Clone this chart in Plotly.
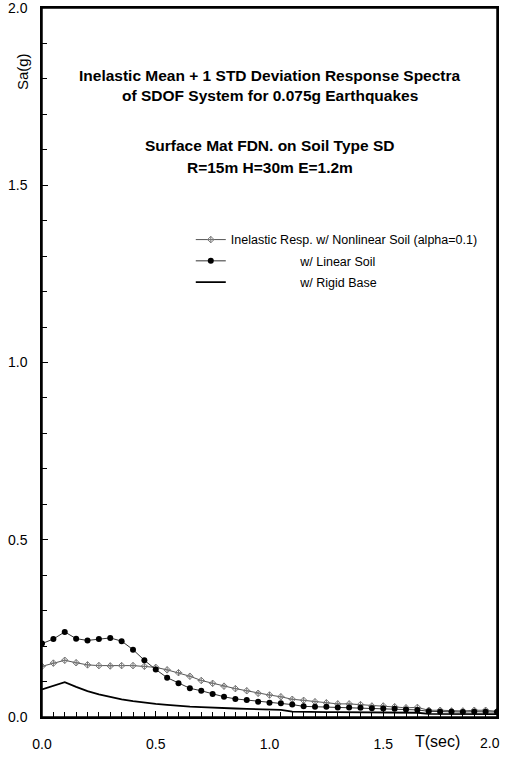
import plotly.graph_objects as go

# ---- data ----
T = [0.00, 0.05, 0.10, 0.15, 0.20, 0.25, 0.30, 0.35, 0.40, 0.45,
     0.50, 0.55, 0.60, 0.65, 0.70, 0.75, 0.80, 0.85, 0.90, 0.95,
     1.00, 1.05, 1.10, 1.15, 1.20, 1.25, 1.30, 1.35, 1.40, 1.45,
     1.50, 1.55, 1.60, 1.65, 1.70, 1.75, 1.80, 1.85, 1.90, 1.95, 2.00]

sa_nonlinear = [0.143, 0.152, 0.160, 0.153, 0.147, 0.145, 0.144, 0.145, 0.145, 0.143,
                0.140, 0.133, 0.125, 0.115, 0.103, 0.095, 0.087, 0.080, 0.074, 0.067,
                0.062, 0.057, 0.050, 0.047, 0.043, 0.040, 0.037, 0.037, 0.035, 0.031,
                0.031, 0.029, 0.026, 0.027, 0.019, 0.019, 0.017, 0.017, 0.019, 0.019, 0.016]

sa_linear = [0.207, 0.220, 0.240, 0.221, 0.216, 0.220, 0.223, 0.214, 0.190, 0.160,
             0.134, 0.111, 0.095, 0.081, 0.074, 0.065, 0.057, 0.051, 0.048, 0.043,
             0.040, 0.039, 0.035, 0.030, 0.029, 0.029, 0.027, 0.027, 0.026, 0.025,
             0.024, 0.023, 0.021, 0.020, 0.016, 0.015, 0.015, 0.014, 0.015, 0.015, 0.014]

sa_rigid = [0.078, 0.088, 0.098, 0.085, 0.073, 0.064, 0.056, 0.050, 0.045, 0.040,
            0.037, 0.034, 0.031, 0.029, 0.028, 0.026, 0.025, 0.024, 0.023, 0.022,
            0.021, 0.020, 0.015, 0.014, 0.014, 0.014, 0.014, 0.014, 0.014, 0.013,
            0.013, 0.013, 0.013, 0.012, 0.009, 0.009, 0.009, 0.008, 0.008, 0.008, 0.008]

x_ticks = [0.0, 0.5, 1.0, 1.5, 2.0]
y_ticks = [0.0, 0.5, 1.0, 1.5, 2.0]

names = ["Inelastic Resp. w/ Nonlinear Soil (alpha=0.1)",
         "w/ Linear Soil",
         "w/ Rigid Base"]

title_lines = ["Inelastic Mean + 1 STD Deviation Response Spectra",
               "of SDOF System for 0.075g Earthquakes",
               "Surface Mat FDN. on Soil Type SD",
               "R=15m H=30m E=1.2m"]
title_y = [0.9055, 0.8759, 0.8054, 0.7757]

FONT = "Liberation Sans, Arial, sans-serif"
NB = "\u00a0"

x_ticktext = [f"{v:.1f}" for v in x_ticks]
last_x_label = x_ticktext[-1]
x_ticktext[-1] = ""   # drawn as annotation so it stays inside the page

fig = go.Figure()
fig.add_trace(go.Scatter(
    x=T, y=sa_nonlinear, mode="lines+markers", name=names[0], legendgroup="a",
    line=dict(color="#555555", width=1),
    marker=dict(symbol="diamond-cross-open", size=5, color="#777777",
                line=dict(width=1, color="#666666"))))
fig.add_trace(go.Scatter(
    x=T, y=sa_linear, mode="lines+markers", name=NB * 20 + names[1], legendgroup="b",
    line=dict(color="#333333", width=1),
    marker=dict(symbol="circle", size=6, color="black")))
fig.add_trace(go.Scatter(
    x=T, y=sa_rigid, mode="lines", name=NB * 20 + names[2], legendgroup="c",
    line=dict(color="black", width=1.8)))

fig.update_layout(
    width=507, height=762,
    margin=dict(l=42, r=10, t=8, b=45),
    paper_bgcolor="white", plot_bgcolor="white",
    font=dict(family=FONT, size=14, color="black"),
    showlegend=True,
    legend=dict(x=0.327, y=0.694, xanchor="left", yanchor="top",
                bgcolor="rgba(0,0,0,0)", font=dict(size=12.5, family=FONT),
                itemwidth=30, tracegroupgap=2, traceorder="grouped"),
)

fig.update_xaxes(
    range=[0, 2.0], tickvals=x_ticks, ticktext=x_ticktext,
    ticks="inside", ticklen=6, tickcolor="black",
    minor=dict(dtick=0.05, ticks="inside", ticklen=5, tickcolor="black"),
    showline=True, linecolor="black", linewidth=1.5, mirror=True,
    showgrid=False, zeroline=False, ticklabelstandoff=13, automargin=False,
    ticklabeloverflow="allow",
    tickfont=dict(size=14, family=FONT))
fig.update_yaxes(
    range=[0, 2.0], tickvals=y_ticks, ticktext=[f"{v:.1f}" for v in y_ticks],
    ticks="inside", ticklen=6, tickcolor="black",
    minor=dict(dtick=0.1, ticks="inside", ticklen=5, tickcolor="black"),
    showline=True, linecolor="black", linewidth=1.5, mirror=True,
    showgrid=False, zeroline=False, ticklabelstandoff=10, automargin=False,
    ticklabeloverflow="allow",
    tickfont=dict(size=14, family=FONT))

# plot frame
fig.add_shape(type="rect", xref="paper", yref="paper", x0=0, y0=0, x1=1, y1=1,
              line=dict(color="black", width=1.5), layer="above")

fig.add_annotation(text=last_x_label, xref="x", yref="paper", x=x_ticks[-1], y=-0.036,
                   xanchor="right", yanchor="middle", xshift=5, showarrow=False,
                   font=dict(size=14, family=FONT))

for line, yy in zip(title_lines, title_y):
    fig.add_annotation(text="<b>" + line + "</b>", xref="paper", yref="paper",
                       x=0.5, y=yy, xanchor="center", yanchor="middle",
                       showarrow=False, font=dict(size=15.5, family=FONT, color="black"))
fig.add_annotation(text="Sa(g)", xref="paper", yref="paper", x=-0.044, y=0.911,
                   xanchor="center", yanchor="middle", showarrow=False,
                   textangle=-90, font=dict(size=15, family=FONT))
fig.add_annotation(text="T(sec)", xref="paper", yref="paper", x=0.87, y=-0.034,
                   xanchor="center", yanchor="middle", showarrow=False,
                   font=dict(size=16, family=FONT))

fig.write_html("out.html", config={"displayModeBar": False},
               post_script="document.body.style.margin='0px';document.body.style.overflow='hidden';")
